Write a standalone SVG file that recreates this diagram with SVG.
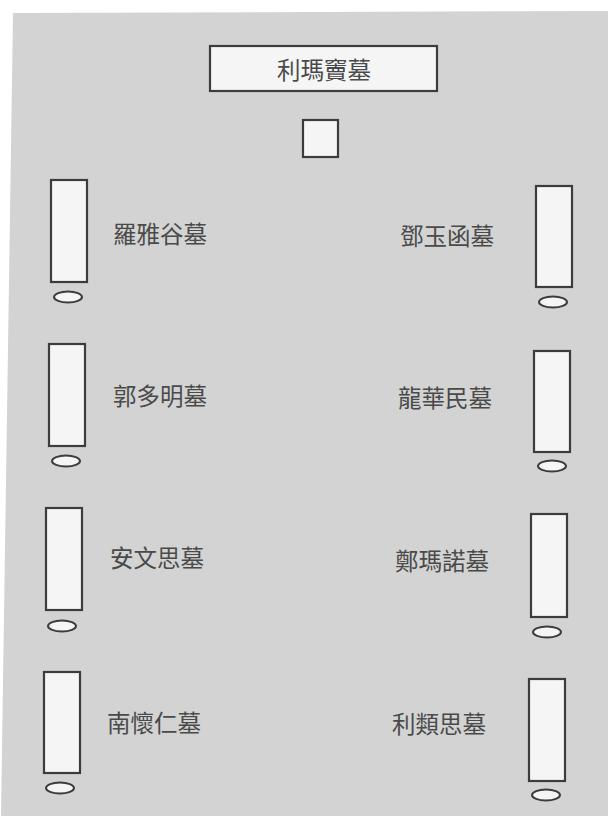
<svg xmlns="http://www.w3.org/2000/svg" width="608" height="816" viewBox="0 0 608 816">
<style>
.box{fill:#f5f5f5;stroke:#3c3c3c;stroke-width:2.2}
.ell{fill:#f5f5f5;stroke:#3c3c3c;stroke-width:2}
.lbl{font-family:"Noto Sans CJK TC","Noto Sans CJK SC",serif;font-size:23.5px;fill:#4a4a4a;dominant-baseline:central}
</style>
<rect width="608" height="816" fill="#ffffff"/>
<polygon points="13,13 608,11 608,816 1,816" fill="#d3d3d3"/>
<g id="title">
<rect class="box" x="210" y="46" width="227" height="45"/>
<text class="lbl" x="324" y="69" text-anchor="middle">利瑪竇墓</text>
</g>
<g id="altar">
<rect class="box" x="303" y="120" width="35" height="37"/>
</g>
<g id="tomb-l1">
<rect class="box" x="51" y="180" width="36" height="102"/>
<ellipse class="ell" cx="68" cy="297" rx="14" ry="5.5"/>
<text class="lbl" x="113" y="233">羅雅谷墓</text>
</g>
<g id="tomb-r1">
<rect class="box" x="536" y="186" width="36" height="101"/>
<ellipse class="ell" cx="553" cy="302" rx="14" ry="5.5"/>
<text class="lbl" x="400" y="235">鄧玉函墓</text>
</g>
<g id="tomb-l2">
<rect class="box" x="49" y="344" width="36" height="102"/>
<ellipse class="ell" cx="66" cy="461" rx="14" ry="5.5"/>
<text class="lbl" x="113" y="395">郭多明墓</text>
</g>
<g id="tomb-r2">
<rect class="box" x="534" y="351" width="36" height="101"/>
<ellipse class="ell" cx="552" cy="466" rx="14" ry="5.5"/>
<text class="lbl" x="398" y="397">龍華民墓</text>
</g>
<g id="tomb-l3">
<rect class="box" x="46" y="508" width="36" height="102"/>
<ellipse class="ell" cx="62" cy="626" rx="14" ry="5.5"/>
<text class="lbl" x="110" y="557">安文思墓</text>
</g>
<g id="tomb-r3">
<rect class="box" x="531" y="514" width="36" height="103"/>
<ellipse class="ell" cx="547" cy="632" rx="14" ry="5.5"/>
<text class="lbl" x="395" y="560">鄭瑪諾墓</text>
</g>
<g id="tomb-l4">
<rect class="box" x="44" y="672" width="36" height="101"/>
<ellipse class="ell" cx="60" cy="788" rx="14" ry="5.5"/>
<text class="lbl" x="107" y="722">南懷仁墓</text>
</g>
<g id="tomb-r4">
<rect class="box" x="529" y="679" width="36" height="102"/>
<ellipse class="ell" cx="546" cy="795" rx="14" ry="5.5"/>
<text class="lbl" x="392" y="723">利類思墓</text>
</g>
<g id="connectors"></g>
</svg>
